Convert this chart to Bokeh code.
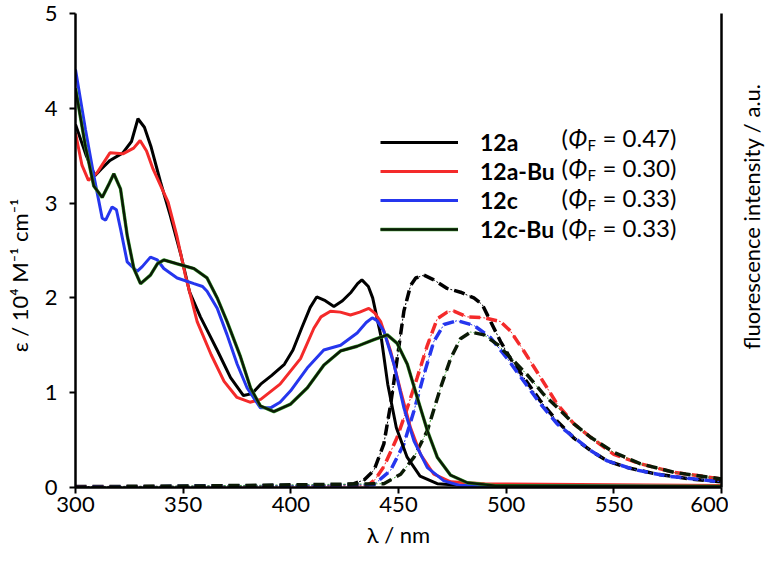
import math
from bokeh.plotting import figure
from bokeh.layouts import row
from bokeh.models import Range1d, LinearAxis, FixedTicker, Legend, LegendItem, Label
from bokeh.embed import file_html
from bokeh.resources import INLINE

# ---------------- data ----------------
abs_12a_x = [300, 305, 309, 312, 316, 322, 326, 329, 332, 335, 339.5, 344, 349, 353, 358, 362, 366, 372, 378, 382, 386,
             391, 397, 401, 405, 409, 412, 416, 420, 424, 428, 431, 433, 436, 438, 442, 445, 449, 454, 460, 468, 480, 600]
abs_12a_y = [3.83, 3.50, 3.29, 3.36, 3.45, 3.53, 3.65, 3.89, 3.80, 3.60, 3.22, 2.87, 2.45, 2.06, 1.80, 1.62, 1.44, 1.16, 0.97, 0.99, 1.09,
             1.18, 1.30, 1.45, 1.68, 1.90, 2.01, 1.97, 1.91, 1.97, 2.06, 2.15, 2.19, 2.12, 2.00, 1.58, 1.09, 0.63, 0.32, 0.12, 0.04, 0.02, 0.01]

abs_12aBu_x = [300, 303, 306, 310, 316, 322, 327, 330, 333, 336, 343, 347, 351, 356.5, 363, 369, 375, 381, 386, 395, 404.5,
               410.7, 414, 418.4, 423, 427.7, 432, 436.2, 439, 441.7, 446.3, 451, 455.6, 460.2, 466.4, 474.2, 490, 550, 600]
abs_12aBu_y = [3.74, 3.40, 3.24, 3.32, 3.53, 3.52, 3.58, 3.66, 3.55, 3.36, 3.01, 2.66, 2.24, 1.75, 1.40, 1.12, 0.95, 0.90, 0.93, 1.09, 1.36,
               1.68, 1.80, 1.86, 1.85, 1.82, 1.85, 1.89, 1.84, 1.75, 1.44, 1.02, 0.63, 0.35, 0.14, 0.06, 0.04, 0.03, 0.02]

abs_12c_x = [300, 304.6, 308.5, 312.4, 314, 317, 319, 320.9, 324, 328.6, 331, 334.8, 338, 341, 347.2, 355, 359, 361.1, 365.8,
             370.4, 375.1, 379.7, 385.9, 390.6, 395, 399.9, 407.6, 415.3, 423.1, 430.8, 435, 437.8, 440, 443.2, 447.9, 452.5,
             457.2, 463.4, 471.1, 478.8, 600]
abs_12c_y = [4.41, 3.78, 3.29, 2.84, 2.82, 2.96, 2.93, 2.73, 2.38, 2.28, 2.33, 2.43, 2.40, 2.31, 2.21, 2.15, 2.12, 2.07, 1.89,
             1.61, 1.30, 1.05, 0.84, 0.84, 0.90, 1.02, 1.26, 1.45, 1.50, 1.63, 1.74, 1.79, 1.76, 1.65, 1.30, 0.84,
             0.49, 0.21, 0.07, 0.02, 0.01]

abs_12cBu_x = [300, 304.6, 308.5, 312.4, 315.5, 317.8, 320.9, 324, 327.1, 330.2, 334.8, 338, 341, 347.2, 355, 361.1, 365.8,
               370.4, 376.6, 381.3, 385.9, 392.1, 399.9, 407.6, 415.3, 423.1, 430.8, 438.6, 444.8, 449.4, 454.1, 458.7,
               463.4, 468, 474.2, 482, 495, 600]
abs_12cBu_y = [4.21, 3.60, 3.18, 3.06, 3.20, 3.31, 3.15, 2.66, 2.31, 2.15, 2.24, 2.36, 2.40, 2.36, 2.31, 2.21, 2.00,
               1.75, 1.38, 1.05, 0.86, 0.80, 0.88, 1.05, 1.29, 1.44, 1.49, 1.56, 1.61, 1.52, 1.30, 0.95,
               0.60, 0.32, 0.13, 0.05, 0.02, 0.01]

fl_12a_x = [300, 420, 429.3, 434, 438.6, 443.2, 446.3, 449.4, 452.5, 455.6, 458, 461.8, 466.4, 472.6, 478.8, 485, 488.9,
            492.8, 497.4, 502, 508.2, 516, 523.7, 531.5, 539.2, 547, 556.3, 570.2, 585.7, 600]
fl_12a_y = [0.01, 0.02, 0.04, 0.08, 0.18, 0.46, 0.87, 1.36, 1.86, 2.13, 2.21, 2.24, 2.19, 2.10, 2.06, 2.00, 1.93,
            1.75, 1.54, 1.36, 1.16, 0.91, 0.70, 0.52, 0.39, 0.28, 0.21, 0.14, 0.09, 0.06]

fl_12aBu_x = [300, 435.5, 439, 443.2, 449.4, 454.1, 458.7, 463.4, 468, 472.6, 475.7, 481.9, 489.7, 497.4, 502, 508.2,
              516, 523.7, 531.5, 539.2, 550, 562.4, 577.9, 600]
fl_12aBu_y = [0.0, 0.02, 0.08, 0.22, 0.53, 0.84, 1.16, 1.50, 1.78, 1.85, 1.86, 1.80, 1.79, 1.75, 1.65, 1.44,
              1.16, 0.88, 0.67, 0.53, 0.35, 0.25, 0.16, 0.09]

fl_12c_x = [300, 438.6, 446.3, 452.5, 457.2, 461.8, 466.4, 471.1, 477.3, 485, 492.8, 500.5, 508.2, 516, 523.7, 531.5,
            539.2, 547, 559.3, 574.8, 600]
fl_12c_y = [0.0, 0.03, 0.18, 0.46, 0.81, 1.19, 1.54, 1.72, 1.76, 1.71, 1.58, 1.36, 1.12, 0.88, 0.67, 0.53,
            0.39, 0.28, 0.19, 0.12, 0.06]

fl_12cBu_x = [300, 443.2, 451, 457.2, 463.4, 469.5, 474.2, 478.8, 483.5, 489.7, 495.9, 502, 509.7, 517.5, 525.3, 531.5,
              539.2, 550, 562.4, 577.9, 600]
fl_12cBu_y = [0.0, 0.04, 0.14, 0.32, 0.60, 1.05, 1.36, 1.57, 1.64, 1.61, 1.51, 1.37, 1.19, 0.98, 0.81, 0.67,
              0.53, 0.37, 0.25, 0.16, 0.09]

names = ["12a", "12a-Bu", "12c", "12c-Bu"]
phi_values = ["0.47", "0.30", "0.33", "0.33"]
x_ticks = [300, 350, 400, 450, 500, 550, 600]
y_ticks = [0, 1, 2, 3, 4, 5]
y_title = "ε / 10⁴ M⁻¹ cm⁻¹"
x_title = "λ / nm"
right_title = "fluorescence intensity / a.u."

FONT = "Lato"
BLACK = "#000000"
RED = "#f42a2a"
BLUE = "#2536ee"
DKGREEN = "#0b1a06"
GREEN = "#3a9a30"

H = 560
PAGE_X0 = 0          # observed horizontal offset of the row layout
PAGE_Y0 = 0          # observed vertical offset of the row layout


def no_align(fig):
    if hasattr(fig, "frame_align"):
        fig.frame_align = False


def title_panel(width, text, top, bottom, border_left, standoff):
    """Narrow empty figure whose left-axis title serves as a vertical axis title."""
    q = figure(width=width, height=H, output_backend="svg", toolbar_location=None,
               min_border_left=border_left, min_border_right=0, min_border_top=top, min_border_bottom=bottom,
               x_range=Range1d(0, 1), y_range=Range1d(0, 1))
    q.outline_line_color = None
    q.xgrid.visible = False
    q.ygrid.visible = False
    q.xaxis.visible = False
    ax = q.yaxis[0]
    ax.ticker = FixedTicker(ticks=[])
    ax.axis_line_color = None
    ax.major_tick_out = 0
    ax.minor_tick_out = 0
    ax.major_label_text_font_size = "0px"
    ax.major_label_standoff = 0
    ax.axis_label = text
    ax.axis_label_standoff = standoff
    ax.axis_label_text_font = FONT
    ax.axis_label_text_font_size = "22px"
    ax.axis_label_text_font_style = "normal"
    ax.axis_label_text_color = BLACK
    no_align(q)
    return q


# ---------------- left title panel ----------------
W0 = 38
p0 = title_panel(W0, y_title, top=0, bottom=10, border_left=W0 - 2, standoff=4)

# ---------------- main figure ----------------
W = 690
ML, MR, MT, MB = 37, 7, 13, 73
p = figure(width=W, height=H, x_range=Range1d(300, 600), y_range=Range1d(0, 5),
           output_backend="svg", toolbar_location=None,
           min_border_left=ML, min_border_right=MR, min_border_top=MT, min_border_bottom=MB)
p.outline_line_color = None
p.xgrid.visible = False
p.ygrid.visible = False
p.background_fill_color = "white"
no_align(p)

FW, FH = W - ML - MR, H - MT - MB
PAGE_LEFT, PAGE_TOP = PAGE_X0 + W0 + ML, PAGE_Y0 + MT
def dx(page_x):
    return 300 + (page_x - PAGE_LEFT) * 300.0 / FW
def dy(page_y):
    return 5 - (page_y - PAGE_TOP) * 5.0 / FH

for ax in (p.xaxis[0], p.yaxis[0]):
    ax.axis_line_width = 2.5
    ax.axis_line_color = BLACK
    ax.major_tick_line_width = 2
    ax.major_tick_out = 6
    ax.major_tick_in = 0
    ax.minor_tick_out = 0
    ax.minor_tick_in = 0
    ax.major_label_text_font = FONT
    ax.major_label_text_font_size = "22px"
    ax.major_label_text_color = BLACK
    ax.axis_label_text_font = FONT
    ax.axis_label_text_font_size = "22px"
    ax.axis_label_text_font_style = "normal"
    ax.axis_label_text_color = BLACK

p.xaxis.ticker = FixedTicker(ticks=x_ticks)
p.yaxis.ticker = FixedTicker(ticks=y_ticks)
p.xaxis.major_label_standoff = 3
p.yaxis.major_label_standoff = 12
p.xaxis.axis_label = x_title
p.xaxis.axis_label_standoff = 6

right = LinearAxis(ticker=FixedTicker(ticks=[]), axis_line_width=2.5, axis_line_color=BLACK,
                   major_tick_out=0, major_tick_in=0, minor_tick_out=0, minor_tick_in=0,
                   major_label_text_font_size="0px", major_label_standoff=0)
p.add_layout(right, "right")

# ---------------- fluorescence (dashed) ----------------
fl_specs = [(fl_12a_x, fl_12a_y, BLACK, BLACK),
            (fl_12aBu_x, fl_12aBu_y, RED, RED),
            (fl_12c_x, fl_12c_y, BLUE, BLUE),
            (fl_12cBu_x, fl_12cBu_y, GREEN, DKGREEN)]
for xs, ys, thin, dash in fl_specs:
    p.line(xs, ys, line_color=thin, line_width=1, line_dash="2 2")
    p.line(xs, ys, line_color=dash, line_width=3.5, line_dash="11 6")

# ---------------- absorption (solid) ----------------
r_a = p.line(abs_12a_x, abs_12a_y, line_color=BLACK, line_width=3)
r_ab = p.line(abs_12aBu_x, abs_12aBu_y, line_color=RED, line_width=3)
r_c = p.line(abs_12c_x, abs_12c_y, line_color=BLUE, line_width=3)
r_cb0 = p.line(abs_12cBu_x, abs_12cBu_y, line_color=GREEN, line_width=3.4)
r_cb = p.line(abs_12cBu_x, abs_12cBu_y, line_color=DKGREEN, line_width=2.4)

legend = Legend(items=[LegendItem(label=names[0], renderers=[r_a]),
                       LegendItem(label=names[1], renderers=[r_ab]),
                       LegendItem(label=names[2], renderers=[r_c]),
                       LegendItem(label=names[3], renderers=[r_cb0, r_cb])],
                location=(305, 244), border_line_color=None, background_fill_alpha=0,
                padding=0, margin=0, spacing=1, glyph_height=24, glyph_width=78, label_height=24,
                label_standoff=22, label_text_font=FONT, label_text_font_size="23px",
                label_text_font_style="bold", label_text_color=BLACK)
p.add_layout(legend)

row_py = [137, 167, 197, 227]  # page y of legend rows
for py, phi in zip(row_py, phi_values):
    p.add_layout(Label(x=dx(561), y=dy(py), text="(", text_font=FONT, text_font_size="24px",
                       text_baseline="middle", text_color=BLACK))
    p.add_layout(Label(x=dx(568), y=dy(py), text="Φ", text_font=FONT, text_font_size="24px",
                       text_font_style="italic", text_baseline="middle", text_color=BLACK))
    p.add_layout(Label(x=dx(587), y=dy(py + 7), text="F", text_font=FONT, text_font_size="15px",
                       text_baseline="middle", text_color=BLACK))
    p.add_layout(Label(x=dx(602), y=dy(py), text="= " + phi + ")", text_font=FONT,
                       text_font_size="24px", text_baseline="middle", text_color=BLACK))

# ---------------- right title panel ----------------
p2 = title_panel(40, right_title, top=0, bottom=128, border_left=38, standoff=2)

layout = row(p0, p, p2, spacing=0)
open("out.html", "w").write(file_html(layout, INLINE))
